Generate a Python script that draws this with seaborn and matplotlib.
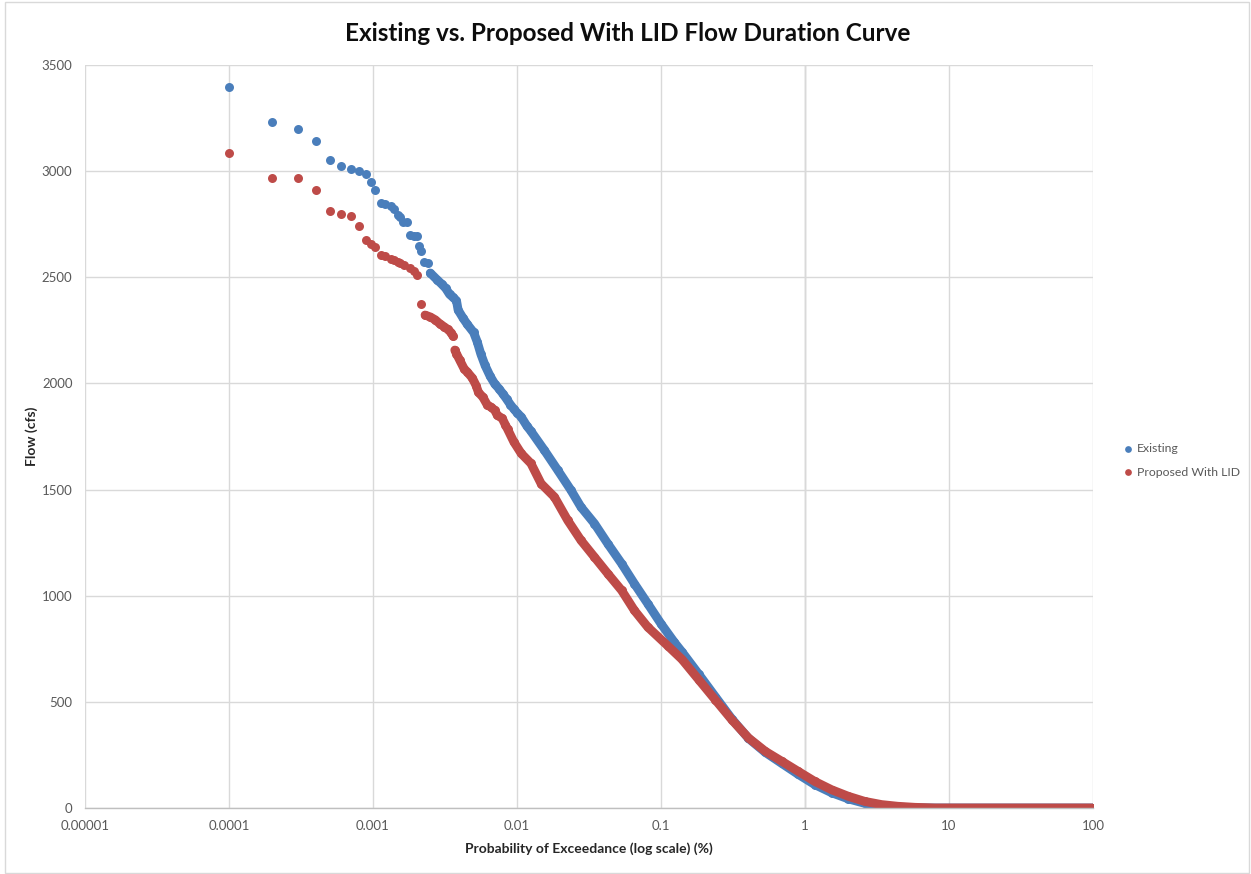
import seaborn as sns
import matplotlib.pyplot as plt
from matplotlib.patches import Rectangle

# Existing condition - isolated high-flow points (exceedance %, flow cfs)
existing_pct = [0.0001, 0.0002, 0.0003, 0.0004, 0.0005, 0.0006, 0.0007, 0.0008, 0.0009,
                0.00097, 0.00104, 0.00113, 0.00122, 0.00133, 0.00141, 0.00149, 0.00155,
                0.00162, 0.00172, 0.00180, 0.00194, 0.00202, 0.00209, 0.00217, 0.00226, 0.00240]
existing_cfs = [3395, 3233, 3197, 3140, 3051, 3026, 3010, 3000, 2988,
                2947, 2911, 2848, 2845, 2837, 2820, 2793, 2782,
                2762, 2759, 2699, 2696, 2694, 2647, 2625, 2570, 2566]

# Existing condition - dense part of the curve
existing_band_pct = [0.0025, 0.0028, 0.0030, 0.0032, 0.0034, 0.0036, 0.0038, 0.0039, 0.0042,
                     0.0045, 0.0050, 0.0053, 0.0056, 0.0060, 0.0065, 0.0070, 0.0075, 0.0080,
                     0.0085, 0.0090, 0.0095, 0.010, 0.0107, 0.0117, 0.0125, 0.0155, 0.0192,
                     0.0237, 0.0278, 0.0345, 0.0427, 0.0533, 0.0653, 0.081, 0.100, 0.124,
                     0.14, 0.183, 0.238, 0.31, 0.405, 0.53, 0.69, 0.9, 1.17, 1.53, 2.0, 2.6,
                     3.4, 4.4, 5.8, 8, 20, 50, 100]
existing_band_cfs = [2520, 2487, 2468, 2448, 2420, 2405, 2390, 2346, 2310,
                     2280, 2240, 2195, 2140, 2085, 2035, 1998, 1975, 1950,
                     1925, 1900, 1880, 1862, 1842, 1800, 1775, 1685, 1591,
                     1497, 1418, 1340, 1245, 1151, 1057, 962, 868, 780,
                     735, 630, 525, 420, 328, 262, 210, 158, 110, 72, 43, 22,
                     10, 4, 1, 0, 0, 0, 0]

# Proposed with LID - isolated high-flow points
proposed_pct = [0.0001, 0.0002, 0.0003, 0.0004, 0.0005, 0.0006, 0.0007, 0.0008, 0.0009,
                0.00097, 0.00104, 0.00113, 0.00122, 0.00133, 0.00141, 0.00149, 0.00155,
                0.00165, 0.00180, 0.00194, 0.00202, 0.00217]
proposed_cfs = [3085, 2970, 2970, 2913, 2814, 2800, 2789, 2742, 2677,
                2659, 2645, 2606, 2598, 2588, 2582, 2574, 2569,
                2558, 2543, 2531, 2511, 2372]

# Proposed with LID - dense parts of the curve (split at the step near 0.0037 %)
proposed_band1_pct = [0.0023, 0.0025, 0.0027, 0.0029, 0.0031, 0.0033, 0.0035, 0.0036]
proposed_band1_cfs = [2322, 2313, 2300, 2282, 2268, 2255, 2238, 2222]

proposed_band2_pct = [0.0037, 0.0038, 0.0040, 0.0043, 0.0045, 0.0049, 0.0052, 0.0054, 0.0058,
                      0.0062, 0.0066, 0.0070, 0.0073, 0.0079, 0.0083, 0.0086, 0.0095, 0.0107,
                      0.0125, 0.0147, 0.0182, 0.0225, 0.0278, 0.0345, 0.0427, 0.0533, 0.0653,
                      0.081, 0.111, 0.14, 0.183, 0.238, 0.31, 0.405, 0.53, 0.69, 0.9, 1.17,
                      1.53, 2.0, 2.6, 3.4, 4.4, 5.8, 8, 20, 50, 100]
proposed_band2_cfs = [2157, 2140, 2110, 2068, 2055, 2025, 1990, 1958, 1935,
                      1900, 1888, 1874, 1850, 1835, 1805, 1785, 1725, 1670,
                      1623, 1528, 1465, 1355, 1261, 1182, 1104, 1025, 931,
                      852, 765, 700, 604, 510, 416, 330, 267, 220, 172, 125,
                      86, 55, 31, 16, 8, 3, 0, 0, 0, 0]

x_ticks = [0.00001, 0.0001, 0.001, 0.01, 0.1, 1, 10, 100]
x_tick_labels = ["0.00001", "0.0001", "0.001", "0.01", "0.1", "1", "10", "100"]
y_ticks = [0, 500, 1000, 1500, 2000, 2500, 3000, 3500]

BLUE = "#4A7EBB"
RED = "#BE4B48"
GRID = "#D9D9D9"
AXIS = "#BFBFBF"
TEXT = "#595959"
MARKER_S = 42
BAND_LW = 6.4

sns.set_theme(style="white")
plt.rcParams['font.family'] = ['Lato', 'DejaVu Sans']

fig = plt.figure(figsize=(12.51, 8.74), dpi=100)
ax = fig.add_axes([85 / 1251, 1 - 808 / 874, (1093 - 85) / 1251, (808 - 65) / 874])


def draw_series(pct, cfs, bands, color, label):
    """Isolated points as markers, dense parts as markers plus a thick band."""
    for b_pct, b_cfs in bands:
        sns.lineplot(x=b_pct, y=b_cfs, color=color, lw=BAND_LW, sort=False,
                     estimator=None, legend=False, ax=ax, solid_capstyle='round')
        sns.scatterplot(x=b_pct, y=b_cfs, color=color, s=MARKER_S, linewidth=0,
                        legend=False, ax=ax)
    sns.scatterplot(x=pct, y=cfs, color=color, s=MARKER_S, linewidth=0, ax=ax, label=label)


draw_series(existing_pct, existing_cfs, [(existing_band_pct, existing_band_cfs)],
            BLUE, "Existing")
draw_series(proposed_pct, proposed_cfs,
            [(proposed_band1_pct, proposed_band1_cfs), (proposed_band2_pct, proposed_band2_cfs)],
            RED, "Proposed With LID")

ax.set_xscale('log')
ax.set_xlim(0.00001, 100)
ax.set_ylim(0, 3500)
ax.set_xticks(x_ticks)
ax.set_xticklabels(x_tick_labels)
ax.set_yticks(y_ticks)
ax.minorticks_off()
ax.tick_params(axis='both', length=0, labelsize=9.5, colors=TEXT)
ax.tick_params(axis='x', pad=9)
ax.tick_params(axis='y', pad=9)

ax.grid(True, color=GRID, lw=1)
ax.set_axisbelow(True)
for side in ['top', 'right', 'left']:
    ax.spines[side].set_visible(False)
ax.spines['bottom'].set_color(AXIS)
ax.spines['bottom'].set_linewidth(1)
# vertical axis crosses at 1 (Excel log-axis default)
ax.axvline(1, color=AXIS, lw=1, zorder=0.5)

ax.set_xlabel("Probability of Exceedance (log scale) (%)", fontsize=10, fontweight='bold',
              color='#262626', labelpad=7)
ax.set_ylabel("Flow (cfs)", fontsize=10, fontweight='bold', color='#262626', labelpad=3)
fig.suptitle("Existing vs. Proposed With LID Flow Duration Curve", x=0.5015, y=0.975,
             fontsize=17.5, fontweight='bold', color='#0D0D0D')

leg = ax.legend(loc='center left', bbox_to_anchor=(1.012, 0.468), frameon=False,
                fontsize=8.8, handletextpad=-0.3, labelspacing=1.05, markerscale=0.75)
for t in leg.get_texts():
    t.set_color(TEXT)

# chart border
fig.patches.append(Rectangle((5 / 1251, 1 / 874), 1244 / 1251, 871 / 874,
                             transform=fig.transFigure, fill=False,
                             edgecolor=GRID, lw=1))

fig.savefig("out.png", dpi=100)
plt.close(fig)
